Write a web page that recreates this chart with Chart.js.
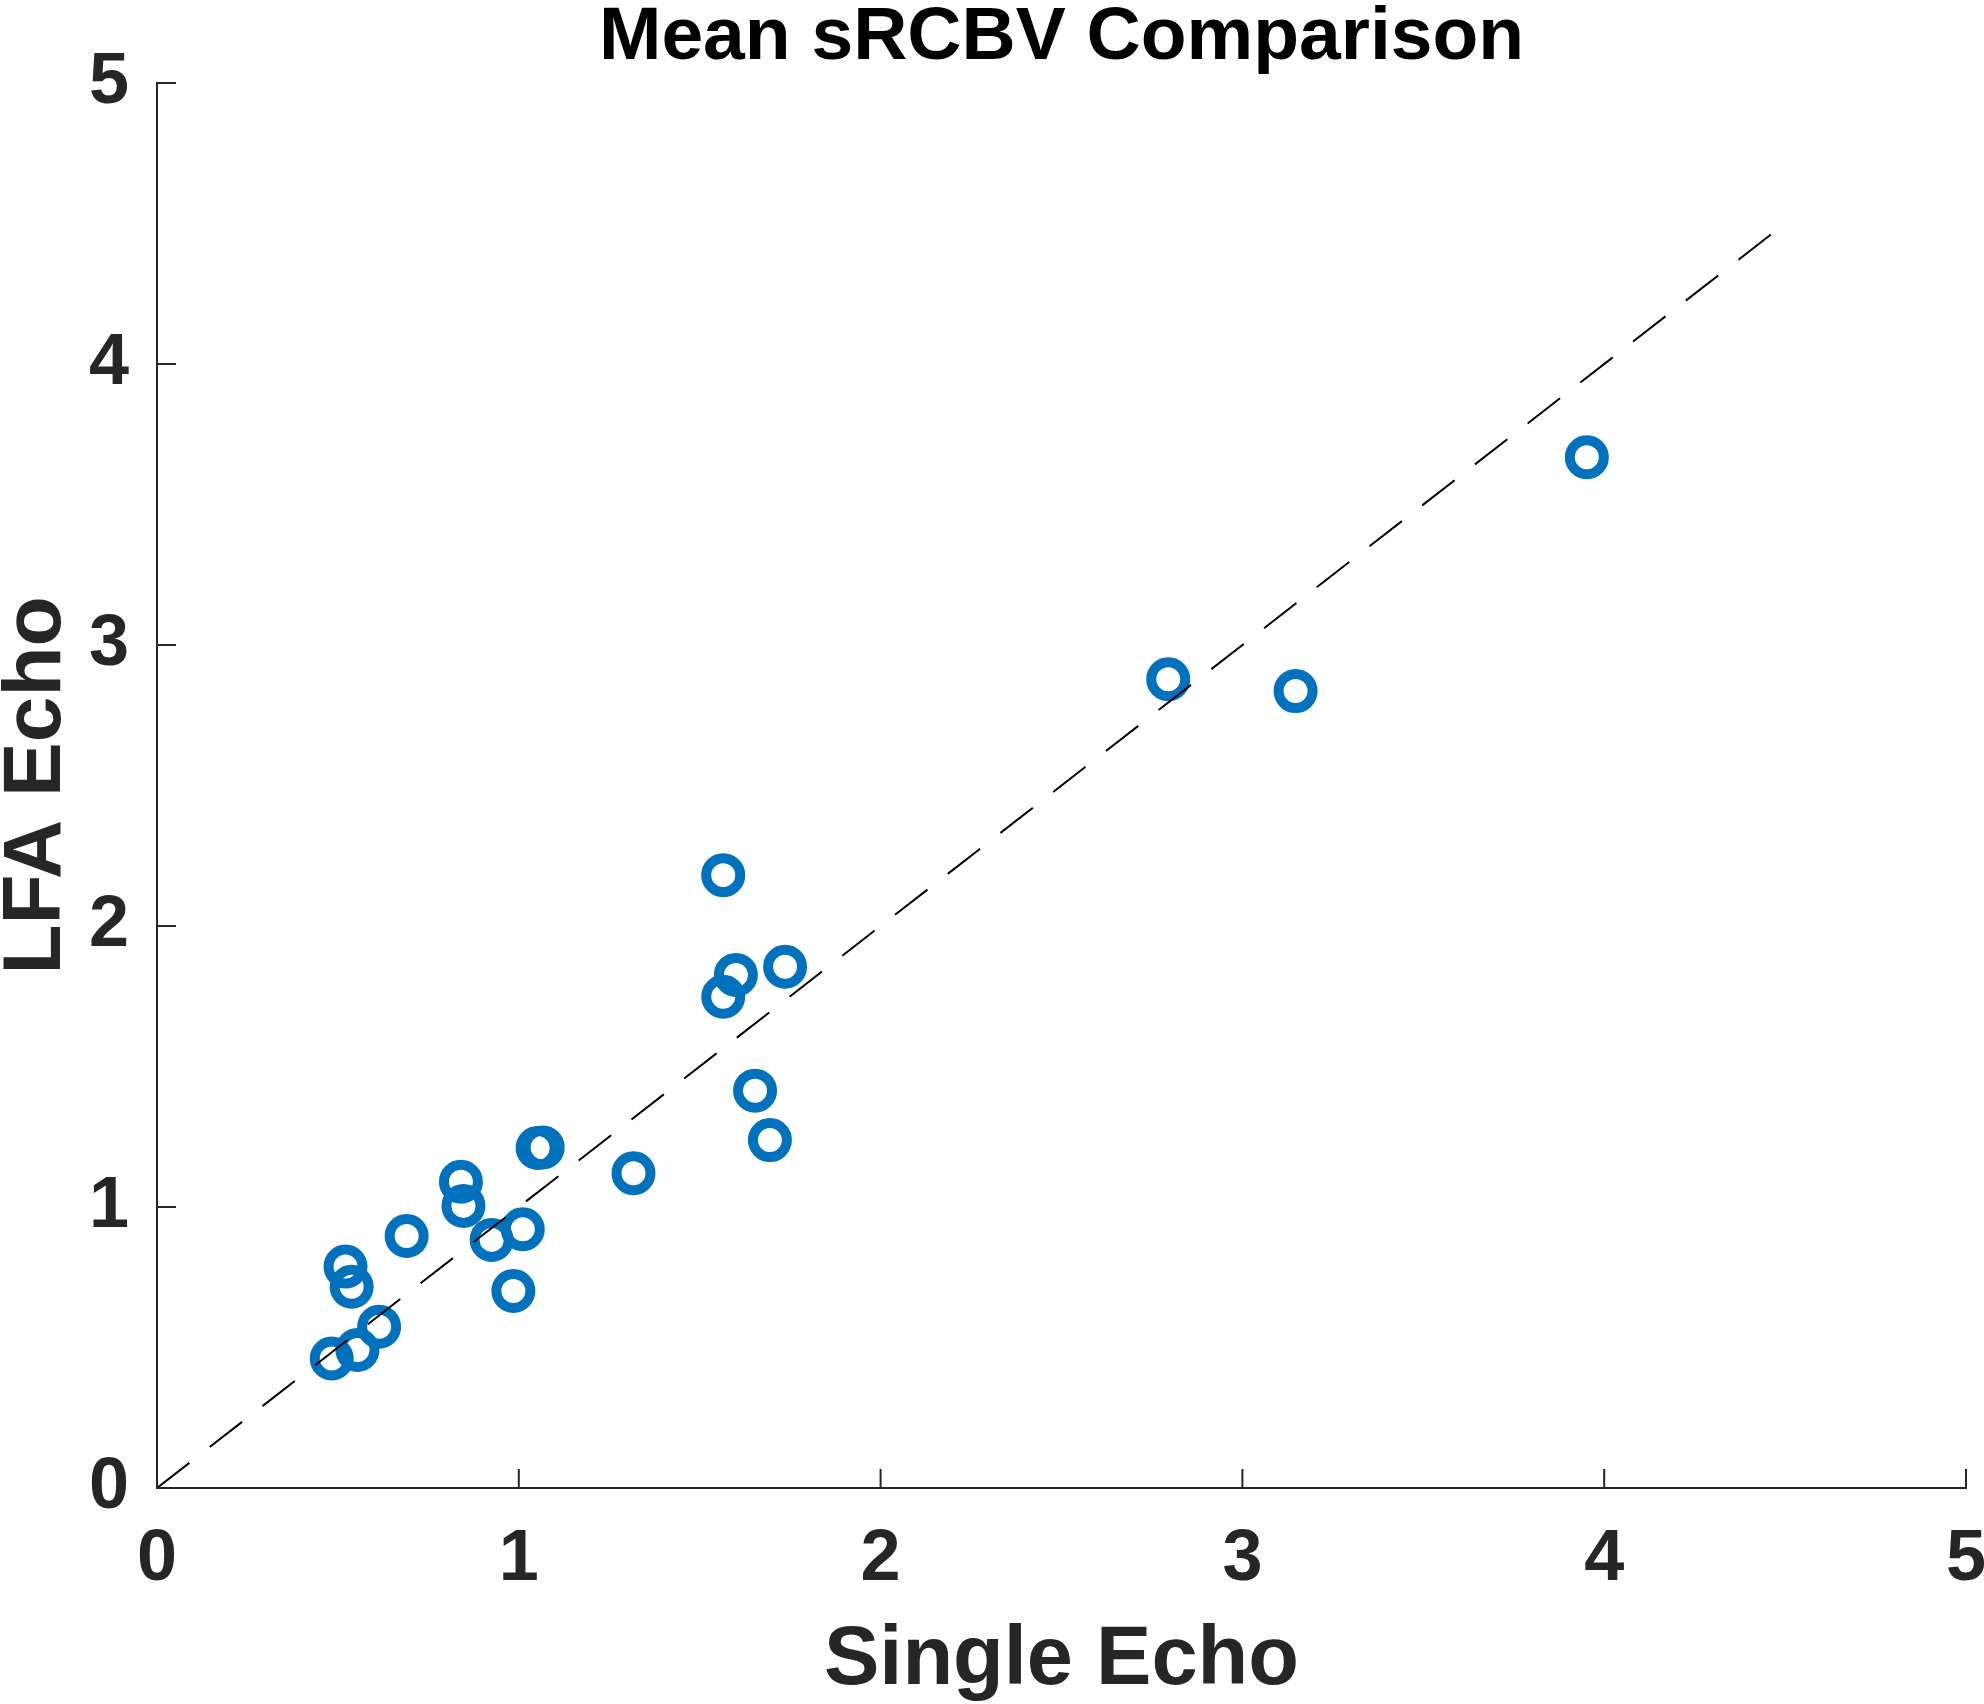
<!DOCTYPE html>
<html>
<head>
<meta charset="utf-8">
<script src="https://cdn.jsdelivr.net/npm/chart.js@4.4.1/dist/chart.umd.min.js"></script>
<style>
  html, body { margin: 0; padding: 0; background: #ffffff; }
  #wrap { width: 1984px; height: 1704px; }
  canvas { display: block; }
</style>
</head>
<body>
<div id="wrap"><canvas id="c" width="1984" height="1704"></canvas></div>
<script>
// ---- data ----
const titleText = 'Mean sRCBV Comparison';
const xAxisLabel = 'Single Echo';
const yAxisLabel = 'LFA Echo';
const tickValues = [0, 1, 2, 3, 4, 5];
const singleEcho = [0.483, 0.554, 0.614, 0.521, 0.538, 0.690, 0.840, 0.847, 0.925, 1.011, 0.985, 1.052, 1.066, 1.317, 1.565, 1.565, 1.600, 1.736, 1.653, 1.694, 2.795, 3.147, 3.952];
const lfaEcho    = [0.461, 0.491, 0.574, 0.788, 0.716, 0.897, 1.090, 1.004, 0.883, 0.921, 0.701, 1.210, 1.212, 1.120, 2.181, 1.748, 1.826, 1.855, 1.414, 1.238, 2.878, 2.836, 3.668];
const identityX = [0, 4.5];
const identityY = [0, 4.5];

const axisColor = '#262626';
const markerColor = '#0072BD';
const FONT = '"Liberation Sans", Arial, Helvetica, sans-serif';

const points = singleEcho.map((x, i) => ({ x: x, y: lfaEcho[i] }));
const linePts = identityX.map((x, i) => ({ x: x, y: identityY[i] }));

// inward tick marks (MATLAB style) + title centred over the plot area
const matlabDecor = {
  id: 'matlabDecor',
  afterDraw(chart) {
    const ctx = chart.ctx;
    const xs = chart.scales.x, ys = chart.scales.y;
    const area = chart.chartArea;
    ctx.save();
    ctx.strokeStyle = axisColor;
    ctx.lineWidth = 2;
    ctx.beginPath();
    tickValues.forEach(v => {
      const px = xs.getPixelForValue(v);
      ctx.moveTo(px, area.bottom);
      ctx.lineTo(px, area.bottom - 19);
      const py = ys.getPixelForValue(v);
      ctx.moveTo(area.left, py);
      ctx.lineTo(area.left + 19, py);
    });
    ctx.stroke();
    ctx.fillStyle = '#000000';
    ctx.font = 'bold 75px ' + FONT;
    ctx.textAlign = 'center';
    ctx.textBaseline = 'alphabetic';
    ctx.fillText(titleText, (area.left + area.right) / 2, 59);
    ctx.restore();
  }
};

new Chart(document.getElementById('c'), {
  type: 'scatter',
  data: {
    datasets: [
      {
        type: 'line',
        data: linePts,
        borderColor: '#000000',
        borderWidth: 2,
        borderDash: [41, 25.75],
        pointRadius: 0,
        fill: false,
        order: 0
      },
      {
        data: points,
        pointStyle: 'circle',
        pointRadius: 17,
        pointBorderWidth: 10,
        pointBorderColor: markerColor,
        pointBackgroundColor: 'rgba(0,0,0,0)',
        borderColor: markerColor,
        backgroundColor: 'rgba(0,0,0,0)',
        order: 1
      }
    ]
  },
  options: {
    responsive: false,
    devicePixelRatio: 1,
    animation: false,
    events: [],
    layout: { autoPadding: false, padding: { top: 83, right: 18, bottom: 0, left: 0 } },
    plugins: {
      legend: { display: false },
      tooltip: { enabled: false },
      title: { display: false }
    },
    scales: {
      x: {
        type: 'linear',
        min: 0, max: 5,
        afterBuildTicks: s => { s.ticks = tickValues.map(v => ({ value: v })); },
        afterFit: s => { s.height = 216; s.paddingRight = 0; s.paddingLeft = 0; },
        grid: { display: false, drawTicks: false },
        border: { display: true, color: axisColor, width: 2 },
        ticks: {
          color: axisColor,
          padding: 36,
          font: { family: FONT, size: 72, weight: 'bold', lineHeight: 1 },
          callback: v => String(v)
        },
        title: {
          display: true,
          text: xAxisLabel,
          color: axisColor,
          font: { family: FONT, size: 83, weight: 'bold', lineHeight: 1 },
          padding: { top: 0, bottom: 1 }
        }
      },
      y: {
        type: 'linear',
        min: 0, max: 5,
        afterBuildTicks: s => { s.ticks = tickValues.map(v => ({ value: v })); },
        afterFit: s => { s.width = 157; s.paddingTop = 0; s.paddingBottom = 0; },
        grid: { display: false, drawTicks: false },
        border: { display: true, color: axisColor, width: 2 },
        ticks: {
          color: axisColor,
          padding: 28,
          font: { family: FONT, size: 72, weight: 'bold', lineHeight: 1 },
          callback: v => String(v)
        },
        title: {
          display: true,
          text: yAxisLabel,
          color: axisColor,
          font: { family: FONT, size: 82, weight: 'bold', lineHeight: 0.9 },
          padding: { top: 0, bottom: 0 }
        }
      }
    }
  },
  plugins: [matlabDecor]
});
</script>
</body>
</html>
